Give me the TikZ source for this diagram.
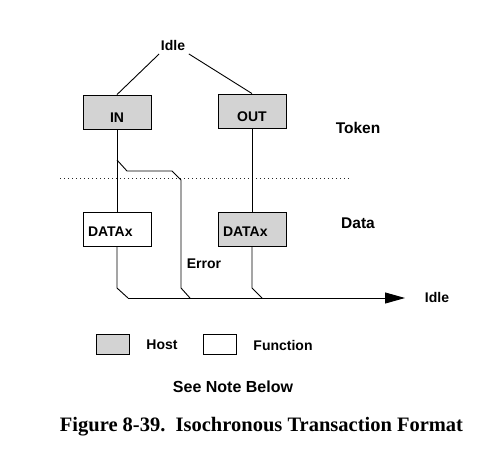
\documentclass[tikz,border=0pt]{standalone}
\usepackage{fontspec}
\usepackage{tikz}
\setmainfont{Liberation Sans}
\newfontfamily\capfont{Liberation Serif}
\usetikzlibrary{arrows.meta}
\definecolor{hostgray}{RGB}{211,211,211}

\begin{document}
\begin{tikzpicture}[x=1pt,y=-1pt,line width=0.9pt,
		lbl/.style={font=\fontsize{14}{16}\selectfont\bfseries},
		big/.style={font=\fontsize{15.5}{18}\selectfont\bfseries},
		tokbox/.style={draw,lbl,minimum width=68pt,minimum height=34pt,inner sep=0pt,text height=20pt,text depth=0pt},
		datbox/.style={draw,lbl,minimum width=68pt,minimum height=34pt,inner sep=0pt,text height=15pt,text depth=0pt,text width=58pt,align=left}]
					\useasboundingbox (0,0) rectangle (497,453);
					\node[lbl] (idle) at (173,45) {Idle};
					\node[tokbox,fill=hostgray] (in) at (117,112) {IN};
					\node[tokbox,fill=hostgray] (out) at (252,111) {OUT};
					\node[datbox,fill=white] (dataf) at (117,229) {DATAx};
					\node[datbox,fill=hostgray] (datah) at (252,229) {DATAx};
					\draw ([xshift=2pt]idle.south west) -- (in.north);
					\draw (idle.south east) -- (out.north);
					
					\draw[black!85,line width=1pt,dash pattern=on 1.2pt off 2.8pt] (60,178) -- (350,178); % Token/Data border.
					\node[big] (token) at (358,128) {Token};
					\node[big] (data) at (358,223) {Data};
					
					\coordinate (split) at (117,160);
					\coordinate (bus) at (128,298);
					\coordinate (busend) at (405,298);
					\draw (in.south) -- (dataf.north);
					\draw (out.south) -- (datah.north);
					\draw (split) -- (127,171) -- (172,171) -- (181,180) -- (181,288) -- (190,298); % Error path.
					\draw (dataf.south) -- (117,288) -- (bus);
					\draw (datah.south) -- (252,288) -- (262,298);
					\draw[-{Triangle[length=20pt,width=11pt]}] (bus) -- (busend);
					\node[lbl] (error) at (204,264) {Error};
					\node[lbl] (idleend) at (437,297) {Idle};
					
					\draw[fill=hostgray] (96,334) rectangle (129,354);
					\node[lbl] (host) at (162,345) {Host};
					\draw[fill=white] (203,334) rectangle (236,354);
					\node[lbl] (func) at (283,345) {Function};
					\node[font=\fontsize{16}{19}\selectfont\bfseries] (note) at (233,387) {See Note Below};
					\node[font=\fontsize{20.5}{24}\selectfont\capfont\bfseries] (caption) at (261.5,427) {Figure 8-39.\ \ Isochronous Transaction Format};
				\end{tikzpicture}
\end{document}
